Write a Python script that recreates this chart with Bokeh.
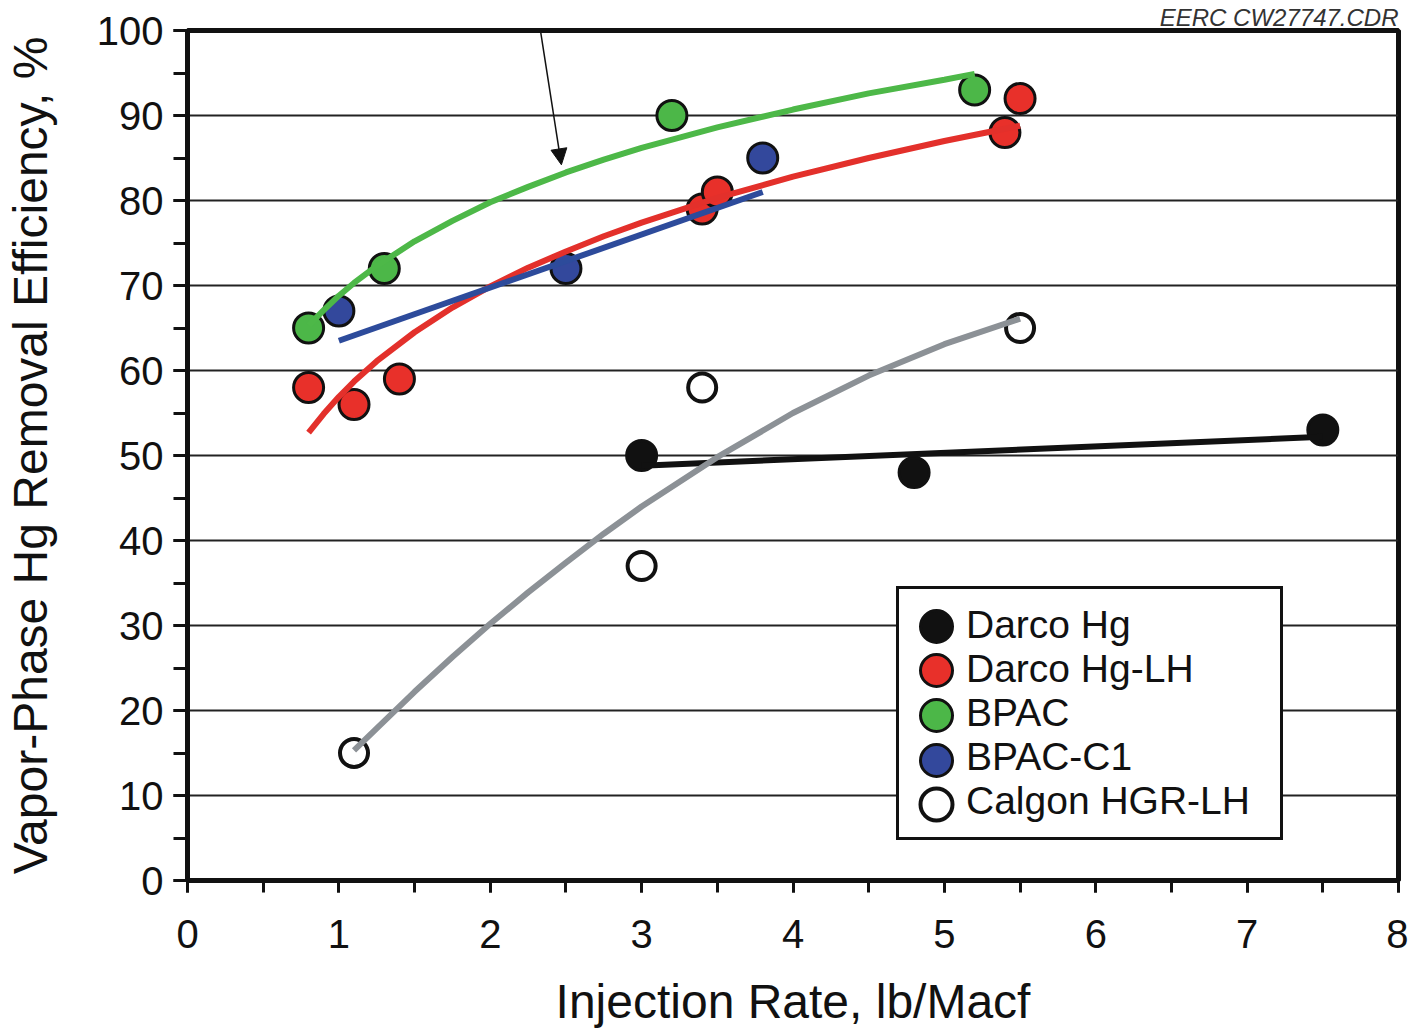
from bokeh.plotting import figure
from bokeh.models import (Legend, LegendItem, Arrow, NormalHead,
                          SingleIntervalTicker, FixedTicker)
from bokeh.embed import file_html
from bokeh.resources import INLINE

# ---- data ----
darco_x = [3.0, 4.8, 7.5]
darco_y = [50, 48, 53]
darco_fit_x = [3.0, 7.5]
darco_fit_y = [48.8, 52.2]

lh_x = [0.8, 1.1, 1.4, 3.4, 3.5, 5.4, 5.5]
lh_y = [58, 56, 59, 79, 81, 88, 92]
lh_fit_x = [0.8, 0.9, 1.0, 1.1, 1.25, 1.5, 1.75, 2.0, 2.25, 2.5, 2.75, 3.0, 3.5, 4.0, 4.5, 5.0, 5.5]
lh_fit_y = [52.7, 54.9, 56.9, 58.7, 61.1, 64.5, 67.4, 69.9, 72.1, 74.0, 75.8, 77.4, 80.3, 82.8, 85.0, 87.0, 88.8]

bpac_x = [0.8, 1.3, 3.2, 5.2]
bpac_y = [65, 72, 90, 93]
bpac_fit_x = [0.8, 0.9, 1.0, 1.1, 1.25, 1.5, 1.75, 2.0, 2.25, 2.5, 2.75, 3.0, 3.5, 4.0, 4.5, 5.0, 5.2]
bpac_fit_y = [65.3, 67.1, 68.8, 70.3, 72.3, 75.2, 77.6, 79.8, 81.6, 83.3, 84.8, 86.2, 88.6, 90.7, 92.6, 94.2, 94.9]

c1_x = [1.0, 2.5, 3.8]
c1_y = [67, 72, 85]
c1_fit_x = [1.0, 3.8]
c1_fit_y = [63.5, 81.0]

calgon_x = [1.1, 3.0, 3.4, 5.5]
calgon_y = [15, 37, 58, 65]
calgon_fit_x = [1.1, 1.25, 1.5, 1.75, 2.0, 2.25, 2.5, 2.75, 3.0, 3.5, 4.0, 4.5, 5.0, 5.5]
calgon_fit_y = [15.3, 17.9, 22.2, 26.3, 30.2, 33.9, 37.4, 40.8, 44.0, 49.8, 55.0, 59.4, 63.1, 66.1]

series_names = ["Darco Hg", "Darco Hg-LH", "BPAC", "BPAC-C1", "Calgon HGR-LH"]
y_grid_values = [10, 20, 30, 40, 50, 60, 70, 80, 90]

FONT = "Liberation Sans"
INK = "#111111"

p = figure(width=1408, height=1030, x_range=(0, 8), y_range=(0, 100),
           output_backend="svg", toolbar_location=None,
           min_border_left=186, min_border_right=10, min_border_top=30,
           min_border_bottom=10, background_fill_color="white",
           border_fill_color="white")

# corner note as the (right-aligned) title
p.title.text = "EERC CW27747.CDR"
p.title.align = "right"
p.title.text_font = FONT
p.title.text_font_size = "24px"
p.title.text_font_style = "italic"
p.title.text_color = "#333333"
p.title.standoff = 0

p.outline_line_color = INK
p.outline_line_width = 5
p.xgrid.visible = False
p.ygrid.ticker = FixedTicker(ticks=y_grid_values)
p.ygrid.grid_line_color = "#222222"
p.ygrid.grid_line_width = 2

p.xaxis.ticker = SingleIntervalTicker(interval=1, num_minor_ticks=2)
p.yaxis.ticker = SingleIntervalTicker(interval=10, num_minor_ticks=2)
for ax in (p.xaxis, p.yaxis):
    ax.axis_line_color = INK
    ax.axis_line_width = 5
    ax.major_tick_line_color = INK
    ax.minor_tick_line_color = INK
    ax.major_tick_line_width = 3
    ax.minor_tick_line_width = 3
    ax.major_tick_in = 0
    ax.minor_tick_in = 0
    ax.major_label_text_font = FONT
    ax.major_label_text_font_size = "40px"
    ax.major_label_text_color = INK
    ax.axis_label_text_font = FONT
    ax.axis_label_text_font_size = "48px"
    ax.axis_label_text_font_style = "normal"
    ax.axis_label_text_color = INK
p.xaxis.major_tick_out = 12
p.xaxis.minor_tick_out = 12
p.yaxis.major_tick_out = 14
p.yaxis.minor_tick_out = 14
p.xaxis.major_label_standoff = 27
p.yaxis.major_label_standoff = 10
p.xaxis.axis_label_standoff = 24
p.yaxis.axis_label_standoff = 37
p.xaxis.axis_label = "Injection Rate, lb/Macf"
p.yaxis.axis_label = "Vapor-Phase Hg Removal Efficiency, %"

# ---- points ----
MS = 30
r_darco = p.scatter(darco_x, darco_y, size=MS, fill_color=INK, line_color=INK, line_width=3)
r_lh = p.scatter(lh_x, lh_y, size=MS, fill_color="#e8302a", line_color=INK, line_width=3)
r_bpac = p.scatter(bpac_x, bpac_y, size=MS, fill_color="#4cb748", line_color=INK, line_width=3)
r_c1 = p.scatter(c1_x, c1_y, size=MS, fill_color="#33489c", line_color=INK, line_width=3)
r_cal = p.scatter(calgon_x, calgon_y, size=MS - 2, fill_color="white", line_color=INK, line_width=4)

# ---- fitted curves (drawn over the points) ----
LW = 6
p.line(darco_fit_x, darco_fit_y, line_color=INK, line_width=LW)
p.line(lh_fit_x, lh_fit_y, line_color="#e3302b", line_width=LW)
p.line(bpac_fit_x, bpac_fit_y, line_color="#4db848", line_width=LW)
p.line(c1_fit_x, c1_fit_y, line_color="#2d4b9b", line_width=LW)
p.line(calgon_fit_x, calgon_fit_y, line_color="#8c9196", line_width=LW)

# ---- legend: framed legend with labels ----
renderers = [r_darco, r_lh, r_bpac, r_c1, r_cal]
legend = Legend(items=[LegendItem(label=n, renderers=[r]) for n, r in zip(series_names, renderers)],
                location=(709, 40), orientation="vertical",
                label_text_font=FONT, label_text_font_size="39px", label_text_color=INK,
                glyph_width=52, glyph_height=44, label_height=44, label_width=300,
                spacing=0, padding=14, margin=0, label_standoff=1,
                border_line_color=INK, border_line_width=3, border_line_alpha=1,
                background_fill_color="white", background_fill_alpha=1)
p.add_layout(legend)

# larger legend symbols, one transparent legend per row laid over the framed one
row_pitch = 44.5
for i, r in enumerate(renderers):
    sym = Legend(items=[LegendItem(label=" ", renderers=[r])],
                 location=(709, round(214 - row_pitch * i)), orientation="vertical",
                 glyph_width=80, glyph_height=80, label_height=10, label_width=0,
                 label_text_font_size="10px", label_standoff=0,
                 spacing=0, padding=0, margin=0,
                 border_line_alpha=0, background_fill_alpha=0)
    p.add_layout(sym)

# ---- arrow annotation ----
p.add_layout(Arrow(x_start=2.30, y_start=103.6, x_end=2.47, y_end=84.2,
                   line_color=INK, line_width=1.5, level="overlay",
                   end=NormalHead(size=16, fill_color=INK, line_color=INK, line_width=1)))

open("out.html", "w").write(file_html(p, INLINE))
